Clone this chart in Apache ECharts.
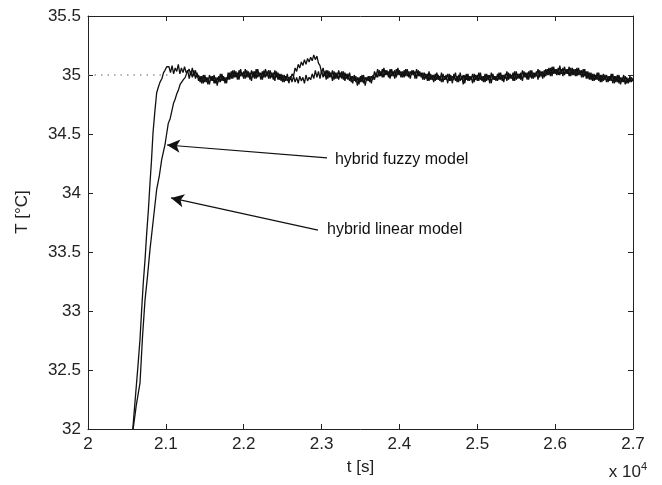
<!DOCTYPE html>
<html>
<head>
<meta charset="utf-8">
<script src="https://cdn.jsdelivr.net/npm/echarts@6/dist/echarts.min.js"></script>
<style>html,body{margin:0;padding:0;background:#fff}#c{width:662px;height:485px}</style>
</head>
<body>
<div id="c"></div>
<script>
// ---- data (t in units of 10^4 s, T in deg C) ----
const xTicks = [2, 2.1, 2.2, 2.3, 2.4, 2.5, 2.6, 2.7];
const yTicks = [32, 32.5, 33, 33.5, 34, 34.5, 35, 35.5];

// rising part, left curve
const riseA = [[2.0575,32.00],[2.0605,32.24],[2.0640,32.52],[2.0668,32.76],[2.0690,33.02],[2.0710,33.24],[2.0733,33.44],[2.0754,33.66],[2.0776,33.86],[2.0796,34.08],[2.0815,34.27],[2.0835,34.51],[2.0860,34.70],[2.0882,34.85],[2.0905,34.90],[2.0925,34.94],[2.0950,34.97],[2.0970,35.02],[2.0989,35.04],[2.1011,35.07]];
// rising part, right curve
const riseB = [[2.0580,32.00],[2.0620,32.20],[2.0668,32.39],[2.0700,32.78],[2.0732,33.09],[2.0765,33.30],[2.0796,33.52],[2.0840,33.78],[2.0882,34.03],[2.0915,34.14],[2.0946,34.28],[2.0989,34.41],[2.1010,34.50],[2.1031,34.59],[2.1055,34.63],[2.1075,34.69],[2.1098,34.76],[2.1117,34.79],[2.1140,34.84],[2.1160,34.87],[2.1183,34.92],[2.1203,34.94],[2.1225,34.96],[2.1249,34.98],[2.1270,35.02],[2.1287,35.03]];

// settled part, sampled every 0.002 (x10^4 s)
const flatStep = 0.002;
const flatStartA = 2.104;
const flatA = [
35.07,35.02,35.08,35.01,35.06,35.03,35.09,35.01,35.06,35.02,
35.07,35.02,35.04,34.97,35.03,34.98,35.04,34.97,35.02,34.95,
34.99,34.93,35.00,34.94,34.98,34.92,35.00,34.95,34.99,34.93,
34.98,34.91,34.99,34.94,35.01,34.95,34.98,34.93,35.02,34.96,
35.03,34.97,35.04,34.98,35.02,34.96,35.05,34.99,35.03,34.97,
35.04,34.98,35.02,34.95,35.03,34.97,35.05,34.98,35.02,34.96,
35.03,34.98,35.05,34.99,35.04,34.97,35.02,34.96,35.04,34.98,
35.02,34.96,35.01,34.94,35.00,34.95,35.01,34.93,34.99,34.94,
34.99,34.94,34.98,34.93,34.99,34.95,34.98,34.93,35.00,34.95,
34.98,34.96,35.01,34.97,35.04,34.98,35.03,34.97,35.04,34.98,
35.03,34.96,35.04,34.98,35.02,34.95,35.03,34.97,35.02,34.96,
35.02,34.97,35.03,34.95,35.01,34.96,35.02,34.94,34.99,34.95,
34.99,34.91,34.98,34.94,35.00,34.93,34.98,34.95,34.99,34.94,
34.99,34.96,35.03,34.98,35.05,34.99,35.03,34.98,35.06,35.00,
35.04,34.98,35.05,34.99,35.03,34.97,35.05,35.00,35.04,34.98,
35.03,34.98,35.05,34.99,35.03,34.97,35.04,35.00,35.03,34.97,
35.04,34.99,35.02,34.96,35.02,34.97,35.01,34.95,35.01,34.96,
35.00,34.95,35.02,34.96,34.99,34.94,35.01,34.96,35.00,34.93,
35.01,34.95,34.99,34.96,35.02,34.94,35.00,34.95,34.99,34.92,
35.00,34.96,35.01,34.95,34.99,34.93,35.01,34.96,35.00,34.95,
35.02,34.95,34.99,34.94,35.01,34.96,35.00,34.93,35.01,34.96,
34.99,34.95,35.02,34.96,35.00,34.94,35.01,34.95,35.02,34.97,
35.00,34.95,35.03,34.96,35.01,34.97,35.02,34.95,35.03,34.98,
35.02,34.96,35.04,34.97,35.02,34.98,35.03,34.96,35.04,34.99,
35.03,34.98,35.05,35.00,35.06,34.99,35.07,35.01,35.05,35.00,
35.06,35.00,35.05,34.99,35.07,35.01,35.05,34.99,35.06,35.00,
35.05,34.99,35.06,35.00,35.04,34.98,35.05,34.99,35.03,34.97,
35.02,34.96,35.01,34.95,35.00,34.96,35.02,34.94,35.00,34.95,
35.00,34.94,34.99,34.95,35.01,34.93,34.99,34.94,35.00,34.93,
34.98,34.94,35.00,34.92,34.98,34.93,34.99,34.94,34.97
];
const flatStartB = 2.130;
const flatB = [
35.05,35.00,35.06,34.99,35.04,34.98,35.00,34.94,34.99,34.93,
35.00,34.94,34.98,34.92,34.99,34.95,35.00,34.93,34.98,34.94,
35.01,34.95,34.99,34.93,34.98,34.96,35.02,34.97,35.04,34.98,
35.03,34.96,35.04,34.99,35.02,34.97,35.05,34.98,35.03,34.96,
35.04,34.98,35.03,34.97,35.05,34.99,35.02,34.96,35.04,34.98,
35.03,34.97,35.04,34.98,35.02,34.95,35.03,34.96,35.01,34.95,
35.00,34.94,34.99,34.95,34.98,34.96,35.01,34.99,35.06,35.03,
35.09,35.06,35.11,35.08,35.13,35.09,35.14,35.11,35.15,35.12,
35.17,35.13,35.16,35.10,35.08,35.02,35.06,34.99,35.04,34.97,
35.03,34.98,35.04,34.96,35.02,34.97,35.04,34.98,35.03,34.96,
35.02,34.97,35.01,34.95,34.99,34.93,35.00,34.94,34.98,34.92,
34.99,34.94,35.00,34.91,34.98,34.95,34.99,34.93,35.00,34.96,
35.02,34.98,35.04,34.99,35.05,34.98,35.04,35.00,35.03,34.97,
35.05,34.99,35.04,34.98,35.06,35.00,35.03,34.98,35.04,34.99,
35.05,34.98,35.03,35.00,35.04,34.97,35.05,34.99,35.03,34.98,
35.02,34.96,35.01,34.95,35.03,34.96,35.00,34.94,35.01,34.96,
35.00,34.95,35.02,34.94,34.99,34.96,35.01,34.95,35.00,34.93,
35.01,34.95,34.99,34.94,35.02,34.96,35.00,34.93,35.01,34.95,
34.99,34.96,35.01,34.94,35.00,34.95,35.02,34.96,34.99,34.94,
35.01,34.95,35.00,34.93,35.02,34.96,34.99,34.95,35.01,34.96,
35.02,34.95,35.00,34.97,35.03,34.96,35.01,34.97,35.02,34.95,
35.03,34.97,35.01,34.96,35.04,34.98,35.02,34.96,35.03,34.98,
35.04,34.97,35.02,34.99,35.05,34.98,35.03,34.97,35.04,34.99,
35.05,35.00,35.06,34.99,35.07,35.01,35.05,35.00,35.08,35.01,
35.06,35.00,35.05,35.01,35.07,34.99,35.06,35.00,35.05,34.99,
35.06,35.00,35.04,34.98,35.05,34.97,35.03,34.96,35.02,34.95,
35.01,34.96,35.02,34.95,35.00,34.94,35.01,34.96,35.00,34.94,
34.99,34.95,35.01,34.93,34.99,34.94,35.00,34.92,34.98,34.94,
34.99,34.93,34.97,34.94,34.98,34.95
];

// set-point reference (dotted)
const setPoint = [[2.0, 35], [2.105, 35]];

// annotations: text anchor, arrow tail, arrow tip (t, T)
const annotations = [
  { text: 'hybrid fuzzy model',  at: [2.3172, 34.280], from: [2.3070, 34.297], to: [2.1015, 34.407] },
  { text: 'hybrid linear model', at: [2.3070, 33.686], from: [2.2954, 33.686], to: [2.1066, 33.958] }
];

// ---- build ----
function buildSeries(rise, start, vals) {
  const out = rise.slice();
  vals.forEach((v, i) => out.push([+(start + i * flatStep).toFixed(4), v]));
  return out;
}
const dataA = buildSeries(riseA, flatStartA, flatA);
const dataB = buildSeries(riseB, flatStartB, flatB);

const chart = echarts.init(document.getElementById('c'), null, { renderer: 'canvas' });
const FONT = 'Liberation Sans, Arial, Helvetica, sans-serif';
const axisCol = '#222';

const lineStyle = { color: '#111', width: 1.3 };

chart.setOption({
  animation: false,
  backgroundColor: '#fff',
  grid: { left: 88, right: 29, top: 16, bottom: 56, containLabel: false },
  xAxis: [
    {
      type: 'value', min: xTicks[0], max: xTicks[xTicks.length - 1], interval: 0.1,
      name: 't [s]', nameLocation: 'middle', nameGap: 30,
      nameTextStyle: { fontFamily: FONT, fontSize: 17, color: axisCol },
      axisLine: { show: true, lineStyle: { color: axisCol, width: 1 } },
      axisTick: { show: true, inside: true, length: 5, lineStyle: { color: axisCol } },
      axisLabel: { fontFamily: FONT, fontSize: 17, color: axisCol, margin: 7,
        formatter: v => String(+v.toFixed(1)), showMinLabel: true, showMaxLabel: true },
      splitLine: { show: false }
    },
    {
      type: 'value', position: 'top', min: xTicks[0], max: xTicks[xTicks.length - 1], interval: 0.1,
      axisLine: { show: true, onZero: false, lineStyle: { color: axisCol, width: 1 } },
      axisTick: { show: true, inside: true, length: 5, lineStyle: { color: axisCol } },
      axisLabel: { show: false }, splitLine: { show: false }
    }
  ],
  yAxis: [
    {
      type: 'value', min: yTicks[0], max: yTicks[yTicks.length - 1], interval: 0.5,
      axisLine: { show: true, onZero: false, lineStyle: { color: axisCol, width: 1 } },
      axisTick: { show: true, inside: true, length: 5, lineStyle: { color: axisCol } },
      axisLabel: { fontFamily: FONT, fontSize: 17, color: axisCol, margin: 7,
        formatter: v => String(+v.toFixed(1)), showMinLabel: true, showMaxLabel: true },
      splitLine: { show: false }
    },
    {
      type: 'value', position: 'right', min: yTicks[0], max: yTicks[yTicks.length - 1], interval: 0.5,
      axisLine: { show: true, onZero: false, lineStyle: { color: axisCol, width: 1 } },
      axisTick: { show: true, inside: true, length: 5, lineStyle: { color: axisCol } },
      axisLabel: { show: false }, splitLine: { show: false }
    }
  ],
  series: [
    {
      name: 'set point', type: 'line', data: setPoint, showSymbol: false, silent: true,
      lineStyle: { color: '#666', width: 1, type: [1.5, 5] }, z: 1
    },
    {
      name: 'hybrid linear model', type: 'line', data: dataA, showSymbol: false, silent: true,
      lineStyle: lineStyle, z: 3
    },
    {
      name: 'hybrid fuzzy model', type: 'line', data: dataB, showSymbol: false, silent: true,
      lineStyle: lineStyle, z: 3,
      markLine: {
        silent: true, animation: false,
        symbol: ['none', 'arrow'], symbolSize: [10, 13],
        lineStyle: { color: '#111', width: 1.2, type: 'solid' },
        label: { show: false },
        emphasis: { disabled: true },
        data: annotations.map(a => [{ coord: a.from }, { coord: a.to }])
      }
    }
  ]
});

function placeText() {
  const g = annotations.map(a => {
    const p = chart.convertToPixel({ xAxisIndex: 0, yAxisIndex: 0 }, a.at);
    return {
      type: 'text', x: p[0], y: p[1], silent: true,
      style: { text: a.text, fontFamily: FONT, fontSize: 16, fill: '#111',
        align: 'left', verticalAlign: 'middle' }
    };
  });
  g.push({
    type: 'text', x: 22, y: 212, rotation: Math.PI / 2, silent: true,
    style: { text: 'T [°C]', fontFamily: FONT, fontSize: 17, fill: axisCol,
      align: 'center', verticalAlign: 'middle' }
  });
  g.push({
    type: 'text', x: 647, y: 472, silent: true,
    style: {
      text: '{a|x 10}{s|4}', align: 'right', verticalAlign: 'middle',
      rich: {
        a: { fontFamily: FONT, fontSize: 17, fill: axisCol },
        s: { fontFamily: FONT, fontSize: 11, fill: axisCol, padding: [0, 0, 10, 0] }
      }
    }
  });
  chart.setOption({ graphic: g });
}
placeText();
</script>
</body>
</html>
